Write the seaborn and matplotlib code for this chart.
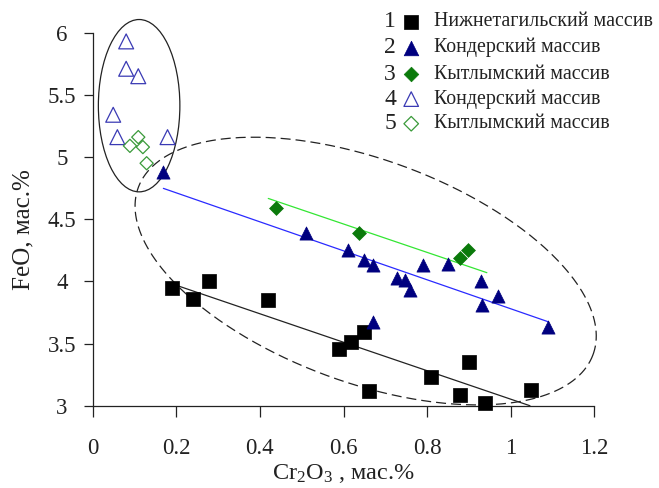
import numpy as np
import matplotlib
matplotlib.use("Agg")
import matplotlib.pyplot as plt
from matplotlib.patches import Ellipse
import seaborn as sns

# 1 - Нижнетагильский массив
x1 = [0.189, 0.239, 0.279, 0.419, 0.590, 0.617, 0.648, 0.660, 0.809, 0.900, 0.879, 0.939, 1.049]
y1 = [3.95, 3.86, 4.00, 3.85, 3.46, 3.51, 3.59, 3.12, 3.23, 3.35, 3.09, 3.02, 3.13]
# 2 - Кондерский массив (filled)
x2 = [0.169, 0.510, 0.610, 0.649, 0.670, 0.727, 0.747, 0.759, 0.791, 0.851, 0.929, 0.931, 0.970, 1.090, 0.670]
y2 = [4.88, 4.39, 4.25, 4.17, 4.13, 4.03, 4.01, 3.93, 4.13, 4.14, 4.005, 3.81, 3.88, 3.63, 3.675]
# 3 - Кытлымский массив (filled)
x3 = [0.438, 0.638, 0.879, 0.899]
y3 = [4.59, 4.39, 4.19, 4.25]
# 4 - Кондерский массив (open)
x4 = [0.080, 0.080, 0.109, 0.049, 0.059, 0.179]
y4 = [5.93, 5.71, 5.65, 5.34, 5.16, 5.16]
# 5 - Кытлымский массив (open)
x5 = [0.109, 0.089, 0.120, 0.129]
y5 = [5.16, 5.09, 5.08, 4.95]

# trend lines (end points)
line1_x, line1_y = [0.19, 1.046], [3.98, 3.00]
line2_x, line2_y = [0.169, 1.09], [4.748, 3.675]
line3_x, line3_y = [0.42, 0.943], [4.667, 4.07]

# fields
solid_center, solid_w, solid_h = (0.111, 5.413), 0.195, 1.386
dash_center = (0.653, 4.083)
dash_u = (0.544, -0.672)
dash_v = (-0.092, -0.841)

legend_nums = ["1", "2", "3", "4", "5"]
legend_names = ["Нижнетагильский массив", "Кондерский массив", "Кытлымский массив",
                "Кондерский массив", "Кытлымский массив"]

navy = "#00007f"
dkgreen = "#0b7a0b"
open_blue = "#3a3ab4"
open_green = "#3a9a3a"

sns.set_style("ticks")
plt.rcParams["font.family"] = ["Liberation Serif", "DejaVu Serif"]
plt.rcParams["mathtext.fontset"] = "custom"
plt.rcParams["mathtext.rm"] = "Liberation Serif"
plt.rcParams["mathtext.it"] = "Liberation Serif:italic"

fig = plt.figure(figsize=(6.59, 4.88), dpi=100)
ax = fig.add_axes([0.1407, 0.1686, 0.7611, 0.7644])

# trend lines
sns.lineplot(x=line1_x, y=line1_y, ax=ax, color="#222222", lw=0.9)
sns.lineplot(x=line2_x, y=line2_y, ax=ax, color="#2a2aff", lw=0.9)
sns.lineplot(x=line3_x, y=line3_y, ax=ax, color="#33e633", lw=0.9)

# fields
ax.add_patch(Ellipse(solid_center, solid_w, solid_h, fill=False, ec="#222222",
                     lw=0.9, clip_on=False))
t = np.linspace(0, 2 * np.pi, 400)
ex = dash_center[0] + dash_u[0] * np.cos(t) + dash_v[0] * np.sin(t)
ey = dash_center[1] + dash_u[1] * np.cos(t) + dash_v[1] * np.sin(t)
ax.plot(ex, ey, color="#222222", lw=0.9, ls=(0, (8, 4)), clip_on=False)

# points
sns.scatterplot(x=x1, y=y1, ax=ax, marker="s", s=100, color="black",
                edgecolor="black", linewidth=0.5, zorder=5, clip_on=False)
sns.scatterplot(x=x2, y=y2, ax=ax, marker="^", s=90, color=navy,
                edgecolor=navy, linewidth=0.5, zorder=5, clip_on=False)
sns.scatterplot(x=x3, y=y3, ax=ax, marker="D", s=50, color=dkgreen,
                edgecolor=dkgreen, linewidth=0.5, zorder=5, clip_on=False)
sns.scatterplot(x=x4, y=y4, ax=ax, marker="^", s=115, facecolor="none",
                edgecolor=open_blue, linewidth=0.9, zorder=5, clip_on=False)
sns.scatterplot(x=x5, y=y5, ax=ax, marker="D", s=45, facecolor="none",
                edgecolor=open_green, linewidth=0.9, zorder=5, clip_on=False)

ax.set_xlim(0, 1.2)
ax.set_ylim(3, 6)
ax.set_xticks([0, 0.2, 0.4, 0.6, 0.8, 1.0, 1.2])
ax.set_xticklabels(["0", "0.2", "0.4", "0.6", "0.8", "1", "1.2"])
ax.set_yticks([3, 3.5, 4, 4.5, 5, 5.5, 6])
ax.set_yticklabels(["3", "3.5", "4", "4.5", "5", "5.5", "6"])
sns.despine(ax=ax)
for sp in ax.spines.values():
    sp.set_linewidth(0.9)
    sp.set_color("#222222")
ax.tick_params(axis="x", direction="out", length=8, width=0.9, pad=15,
               labelsize=16.5, colors="#222222")
ax.tick_params(axis="y", direction="out", length=6.7, width=0.9, pad=15.4,
               labelsize=16.5, colors="#222222")
for lab in ax.get_yticklabels():
    lab.set_ha("center")

ax.set_xlabel(r"Cr$_2$O$_3$ , мас.%", fontsize=17.5, color="#222222")
ax.xaxis.set_label_coords(0.5, -0.183)
ax.xaxis.label.set_va("center")
ax.set_ylabel("FeO, мас.%", fontsize=18, color="#222222")
ax.yaxis.set_label_coords(-0.139, 0.471)
ax.yaxis.label.set_va("center")
ax.yaxis.label.set_ha("center")

# legend
leg_y = [1.0295, 0.960, 0.889, 0.822, 0.756]
leg_style = [
    dict(marker="s", s=110, c="black", edgecolors="black", linewidths=0.5),
    dict(marker="^", s=110, c=navy, edgecolors=navy, linewidths=0.5),
    dict(marker="D", s=55, c=dkgreen, edgecolors=dkgreen, linewidths=0.5),
    dict(marker="^", s=110, facecolors="none", edgecolors=open_blue, linewidths=0.9),
    dict(marker="D", s=55, facecolors="none", edgecolors=open_green, linewidths=0.9),
]
for num, name, yy, st in zip(legend_nums, legend_names, leg_y, leg_style):
    ax.text(0.593, yy, num, transform=ax.transAxes, ha="center", va="center",
            fontsize=17, color="#222222")
    ax.scatter([0.635], [yy], transform=ax.transAxes, clip_on=False, zorder=6, **st)
    ax.text(0.680, yy, name, transform=ax.transAxes, ha="left", va="center",
            fontsize=14.3, color="#222222")

fig.savefig("out.png", dpi=100)
